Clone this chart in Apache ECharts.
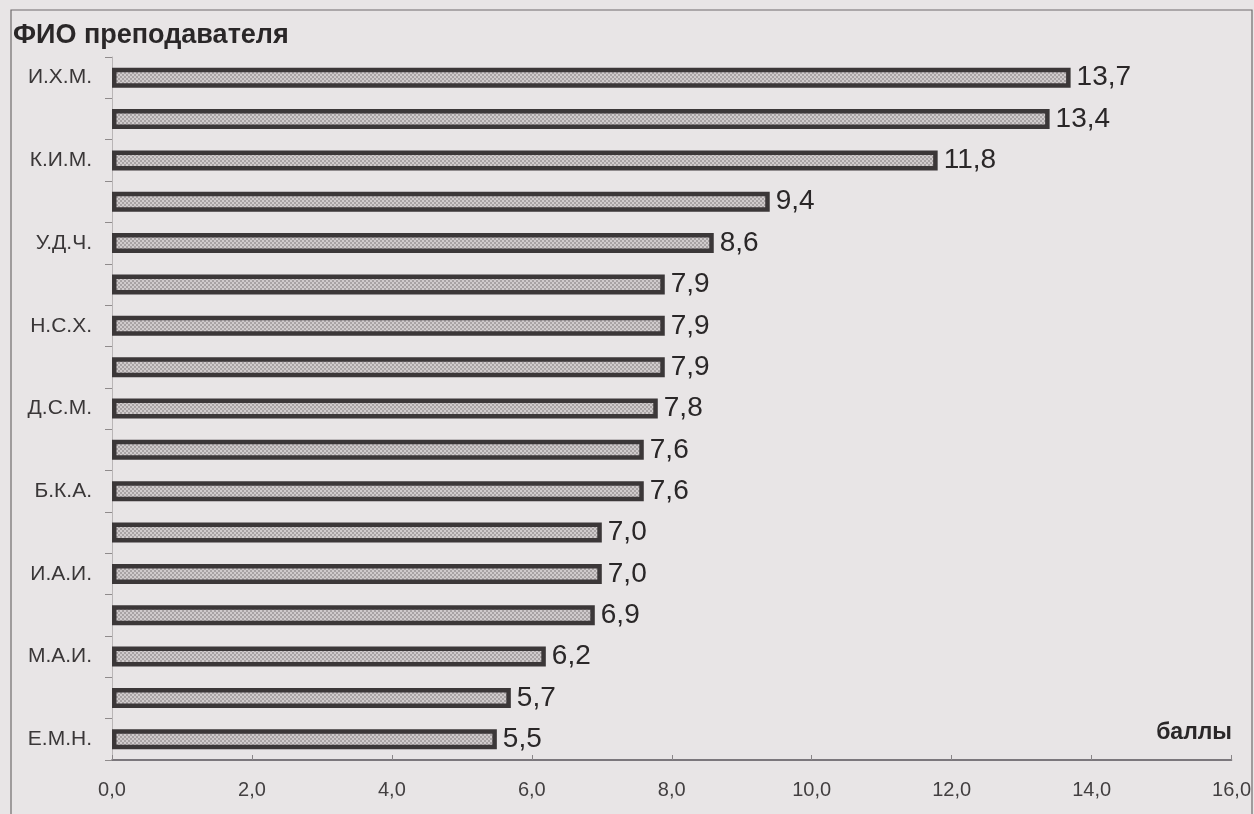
<!DOCTYPE html>
<html>
<head>
<meta charset="utf-8">
<script src="https://cdn.jsdelivr.net/npm/echarts@6/dist/echarts.min.js"></script>
<style>
  html, body { margin: 0; padding: 0; background: #e8e5e6; }
  #chart { width: 1254px; height: 814px; }
</style>
</head>
<body>
<div id="chart"></div>
<script>
// Teachers (initials), top to bottom; only every other row is labelled on the axis
const teachers = ['И.Х.М.', '', 'К.И.М.', '', 'У.Д.Ч.', '', 'Н.С.Х.', '', 'Д.С.М.', '', 'Б.К.А.', '', 'И.А.И.', '', 'М.А.И.', '', 'Е.М.Н.'];
// Score of each teacher, in points
const scores = [13.7, 13.4, 11.8, 9.4, 8.6, 7.9, 7.9, 7.9, 7.8, 7.6, 7.6, 7.0, 7.0, 6.9, 6.2, 5.7, 5.5];
// Value axis range and step
const axisMin = 0, axisMax = 16, axisStep = 2;

const fmt = v => v.toFixed(1).replace('.', ',');

// Dotted grey fill used inside every bar
function dotPattern() {
  const c = document.createElement('canvas');
  c.width = 4; c.height = 4;
  const g = c.getContext('2d');
  g.fillStyle = '#d0cbcc';
  g.fillRect(0, 0, 4, 4);
  g.fillStyle = '#a8a3a4';
  g.fillRect(0, 0, 2, 2);
  g.fillRect(2, 2, 2, 2);
  return c;
}

const chart = echarts.init(document.getElementById('chart'), null, { renderer: 'canvas' });
const sans = "'Liberation Sans', Arial, sans-serif";

chart.setOption({
  backgroundColor: '#e8e5e6',
  animation: false,
  grid: { left: 112, right: 21, top: 57, bottom: 54, containLabel: false },
  graphic: [
    { type: 'rect', shape: { x: 11, y: 10, width: 1241, height: 900 },
      style: { fill: 'none', stroke: '#6f6b6c', lineWidth: 1.2 }, silent: true },
    { type: 'text', left: 13, top: 22,
      style: { text: 'ФИО преподавателя', font: "bold 27px " + sans, fill: '#2a2728' } },
    { type: 'text', right: 22, top: 721,
      style: { text: 'баллы', font: "bold 23px " + sans, fill: '#2a2728' } }
  ],
  xAxis: {
    type: 'value',
    min: axisMin, max: axisMax, interval: axisStep,
    axisLine: { show: true, lineStyle: { color: '#57535a', width: 1.5 } },
    axisTick: { show: true, inside: true, length: 5, lineStyle: { color: '#8a8688' } },
    splitLine: { show: false },
    axisLabel: {
      margin: 20, fontSize: 20, color: '#423f40', fontFamily: sans,
      formatter: v => fmt(v)
    }
  },
  yAxis: {
    type: 'category',
    inverse: true,
    data: teachers,
    axisLine: { show: true, lineStyle: { color: '#b9b5b6', width: 1 } },
    axisTick: { show: true, length: 7, lineStyle: { color: '#8f8b8c' } },
    axisLabel: {
      interval: 0, margin: 20, fontSize: 21, color: '#3a3738', fontFamily: sans
    }
  },
  series: [{
    type: 'bar',
    data: scores,
    barWidth: 20,
    itemStyle: {
      color: { image: dotPattern(), repeat: 'repeat' },
      borderColor: '#3b3738',
      borderWidth: 4.5
    },
    label: {
      show: true, position: 'right', distance: 6,
      fontSize: 28, color: '#2a2728', fontFamily: sans,
      formatter: p => fmt(p.value)
    }
  }]
});
</script>
</body>
</html>
